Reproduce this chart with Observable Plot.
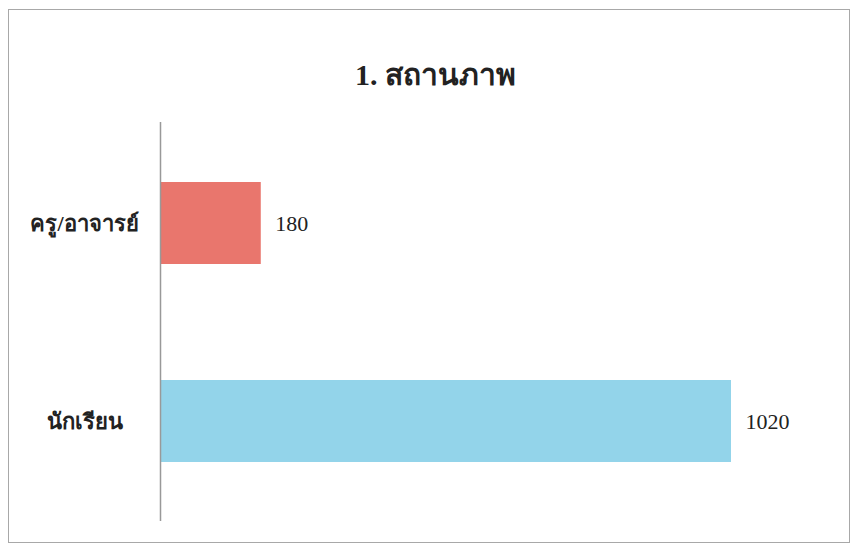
<!DOCTYPE html>
<html>
<head>
<meta charset="utf-8">
<script src="https://cdn.jsdelivr.net/npm/d3@7"></script>
<script src="https://cdn.jsdelivr.net/npm/@observablehq/plot@0.6"></script>
<style>
  html, body { margin: 0; padding: 0; background: #fff; }
  #wrap { position: relative; width: 851px; height: 547px; overflow: hidden; font-family: "Liberation Serif", "DejaVu Serif", serif; }
  #frame { position: absolute; left: 8px; top: 9px; width: 840px; height: 532px; border: 1.5px solid #a8a8a8; box-sizing: content-box; pointer-events: none; }
  #title { position: absolute; left: 0; top: 0; width: 851px; height: 110px; box-sizing: border-box; padding-left: 20px; text-align: center; line-height: 150px; font-size: 30px; font-weight: bold; color: #222; }
  #chart { position: absolute; left: 0; top: 110px; }
</style>
</head>
<body>
<div id="wrap">
  <div id="title">1. สถานภาพ</div>
  <div id="chart"></div>
  <div id="frame"></div>
</div>
<script>
const categories = ["ครู/อาจารย์", "นักเรียน"];
const values = [180, 1020];
const colors = ["#E9766D", "#93D4EA"];

const data = categories.map((c, i) => ({category: c, value: values[i], color: colors[i]}));

const chart = Plot.plot({
  width: 851,
  height: 437,
  marginTop: 12,
  marginBottom: 26,
  marginLeft: 160,
  marginRight: 120,
  style: {fontFamily: "'Liberation Serif', 'DejaVu Serif', serif", background: "transparent"},
  x: {domain: [0, 1020], axis: null},
  y: {domain: categories, paddingInner: 0.587, paddingOuter: 0.3, label: null},
  marks: [
    Plot.barX(data, {x: "value", y: "category", fill: "color"}),
    Plot.ruleX([0], {stroke: "#999", strokeWidth: 1.5}),
    Plot.axisY({tickSize: 0, tickPadding: 76, textAnchor: "middle", fontSize: 22, fontWeight: "bold", fill: "#222"}),
    Plot.text(data, {x: "value", y: "category", text: d => String(d.value), textAnchor: "start", dx: 14, fontSize: 22, fill: "#222"})
  ]
});
document.getElementById("chart").appendChild(chart);
</script>
</body>
</html>
